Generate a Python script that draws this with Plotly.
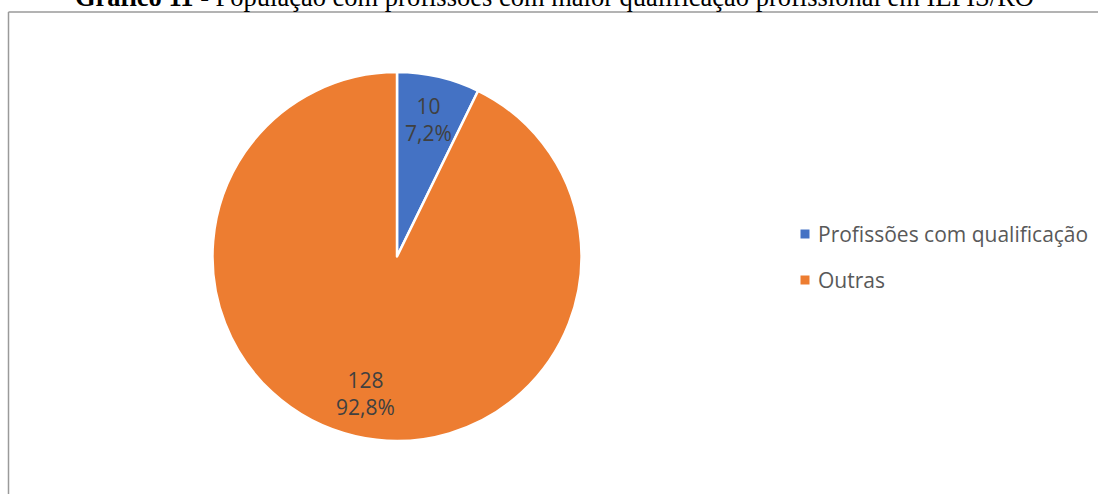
import math
import plotly.graph_objects as go

# Population by profession type
categories = ["Profissões com qualificação", "Outras"]
counts = [10, 128]
colors = ["#4472C4", "#ED7D31"]

title_bold = "Gráfico 11"
title_rest = " - População com profissões com maior qualificação profissional em IEPIS/RO"

W, H = 1098, 494
total = sum(counts)
pct = [c / total * 100 for c in counts]
slice_text = [f"{c}<br>{p:.1f}%".replace(".", ",") for c, p in zip(counts, pct)]

# pie placement in pixels
pie_left, pie_right, pie_top, pie_bottom = 212, 582, 72, 441
cx, cy_pie = (pie_left + pie_right) / 2, (pie_top + pie_bottom) / 2
radius = (pie_right - pie_left) / 2

fig = go.Figure()
fig.add_trace(go.Pie(
    labels=categories,
    values=counts,
    textinfo="none",
    marker=dict(colors=colors, line=dict(color="white", width=2.5)),
    sort=False,
    direction="clockwise",
    rotation=0,
    showlegend=False,
    hoverinfo="label+value+percent",
    domain=dict(x=[pie_left / W, pie_right / W], y=[(H - pie_bottom) / H, (H - pie_top) / H]),
))

annotations = []
shapes = []

# data labels at each slice's mid-angle (clockwise from 12 o'clock)
start = 0.0
for val, txt in zip(counts, slice_text):
    span = val / total * 360
    mid = math.radians(start + span / 2)
    start += span
    r = 0.76 * radius
    lx = cx + r * math.sin(mid)
    ly = cy_pie - r * math.cos(mid)
    annotations.append(dict(
        xref="paper", yref="paper", x=lx / W, y=1 - ly / H,
        xanchor="center", yanchor="middle", showarrow=False,
        text=txt, align="center",
        font=dict(family="Open Sans", size=21, color="#404040"),
    ))

# legend drawn as squares plus labels
legend_x = 805
legend_y0 = 234
legend_step = 46
for i, (name, col) in enumerate(zip(categories, colors)):
    cy = legend_y0 + i * legend_step
    shapes.append(dict(
        type="rect", xref="paper", yref="paper",
        x0=(legend_x - 4.5) / W, x1=(legend_x + 4.5) / W,
        y0=1 - (cy + 4.5) / H, y1=1 - (cy - 4.5) / H,
        fillcolor=col, line=dict(width=0),
    ))
    annotations.append(dict(
        xref="paper", yref="paper", x=(legend_x + 11) / W, y=1 - cy / H,
        xanchor="left", yanchor="middle", showarrow=False,
        text=name, font=dict(family="Open Sans", size=21, color="#595959"),
    ))

# chart-area border (left and top edges visible)
border = dict(color="#9a9a9a", width=1.5)
shapes.append(dict(type="line", xref="paper", yref="paper",
                   x0=8.5 / W, x1=1.01, y0=1 - 12 / H, y1=1 - 12 / H, line=border))
shapes.append(dict(type="line", xref="paper", yref="paper",
                   x0=8.5 / W, x1=8.5 / W, y0=1 - 12 / H, y1=-0.01, line=border))

# title, cropped at the top edge
annotations.append(dict(
    xref="paper", yref="paper", x=554 / W, y=1 + 3.5 / H,
    xanchor="center", yanchor="middle", showarrow=False,
    text=f"<b>{title_bold}</b>{title_rest}",
    font=dict(family="Liberation Serif", size=26.5, color="black"),
))

fig.update_layout(
    width=W, height=H,
    margin=dict(l=0, r=0, t=0, b=0),
    paper_bgcolor="white", plot_bgcolor="white",
    shapes=shapes, annotations=annotations,
)

fig.write_html("out.html")
